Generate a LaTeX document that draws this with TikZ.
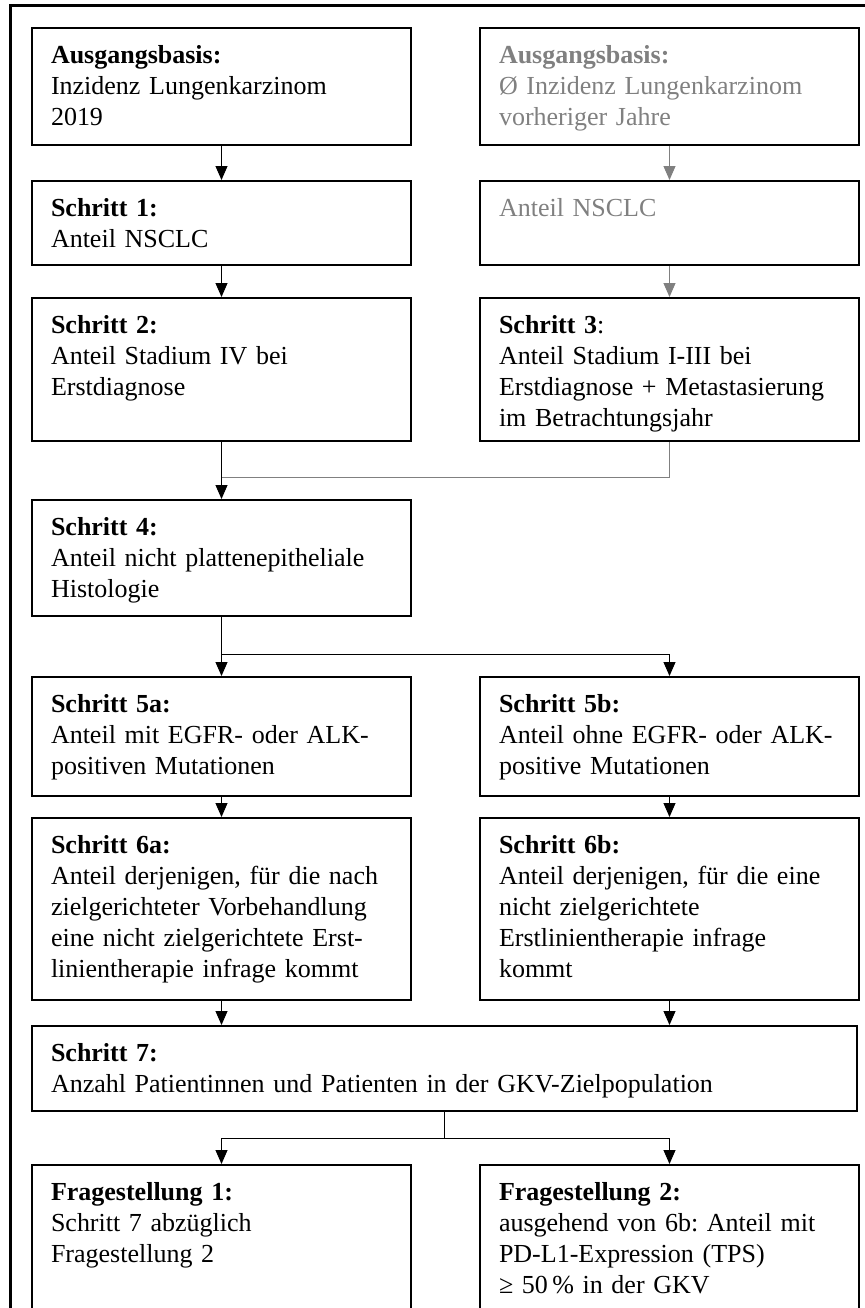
\documentclass[tikz,border=0pt]{standalone}
\usepackage{fontspec}
\setmainfont{Liberation Serif}
\usepackage{xcolor}
\usepackage{tikz}
\usetikzlibrary{arrows.meta,positioning}
\frenchspacing

\begin{document}
\begin{tikzpicture}[
        node distance=17pt,
        box/.style={rectangle, draw, line width=1pt, text width=170.5pt, align=left,
            inner xsep=9.5pt, inner ysep=0pt, text height=17.5pt,
            font=\fontsize{13pt}{15.5pt}\selectfont},
        widebox/.style={box, text width=393.5pt},
        faded/.style={text=gray},
        arrow/.style={line width=0.5pt, -{Triangle[width=6pt,length=7pt]}},
        line/.style={line width=0.5pt}
    ]
        \useasboundingbox (0pt,0pt) rectangle (432.5pt,-654pt);
        \clip (0pt,0pt) rectangle (432.5pt,-654pt);

        % Frame
        \draw[line width=1.5pt] (5pt,-660pt) -- (5pt,-2.5pt) -- (440pt,-2.5pt) -- (440pt,-660pt);

        % Starting points
        \node[box, anchor=north west, text depth=41pt] (base) at (15.5pt,-13.5pt) {
            \textbf{Ausgangsbasis:}\\
            Inzidenz Lungenkarzinom\\
            2019
        };
        \node[box, faded, text depth=41pt, right=33.5pt of base] (rbase) {
            \textbf{Ausgangsbasis:}\\
            Ø Inzidenz Lungenkarzinom\\
            vorheriger Jahre
        };

        % NSCLC
        \node[box, text depth=24.5pt, below=17pt of base] (s1) {
            \textbf{Schritt 1:}\\
            Anteil NSCLC
        };
        \node[box, faded, text depth=24.5pt, below=17pt of rbase] (rs1) {
            Anteil NSCLC
        };

        % Stages
        \node[box, text depth=54pt, below=15.5pt of s1] (s2) {
            \textbf{Schritt 2:}\\
            Anteil Stadium IV bei\\
            Erstdiagnose
        };
        \node[box, text depth=54pt, below=15.5pt of rs1] (s3) {
            \textbf{Schritt 3}:\\
            Anteil Stadium I-III bei\\
            Erstdiagnose + Metastasierung\\
            im Betrachtungsjahr
        };

        % Histology
        \node[box, text depth=40.5pt, below=28.5pt of s2] (s4) {
            \textbf{Schritt 4:}\\
            Anteil nicht plattenepitheliale\\
            Histologie
        };

        % Mutations
        \node[box, text depth=42pt, below=29.5pt of s4] (s5a) {
            \textbf{Schritt 5a:}\\
            Anteil mit EGFR- oder ALK-\\
            positiven Mutationen
        };
        \node[box, text depth=42pt, right=33.5pt of s5a] (s5b) {
            \textbf{Schritt 5b:}\\
            Anteil ohne EGFR- oder ALK-\\
            positive Mutationen
        };

        % First-line therapy
        \node[box, text depth=73.5pt, below=10pt of s5a] (s6a) {
            \textbf{Schritt 6a:}\\
            Anteil derjenigen, für die nach\\
            zielgerichteter Vorbehandlung\\
            eine nicht zielgerichtete Erst-\\
            linientherapie infrage kommt
        };
        \node[box, text depth=73.5pt, below=10pt of s5b] (s6b) {
            \textbf{Schritt 6b:}\\
            Anteil derjenigen, für die eine\\
            nicht zielgerichtete\\
            Erstlinientherapie infrage\\
            kommt
        };

        % Target population
        \node[widebox, text depth=25pt, below=12pt of s6a.south west, anchor=north west] (s7) {
            \textbf{Schritt 7:}\\
            Anzahl Patientinnen und Patienten in der GKV-Zielpopulation
        };

        % Research questions
        \node[box, text depth=54.5pt, below=26pt of s7.south west, anchor=north west] (f1) {
            \textbf{Fragestellung 1:}\\
            Schritt 7 abzüglich\\
            Fragestellung 2
        };
        \node[box, text depth=54.5pt, right=33.5pt of f1] (f2) {
            \textbf{Fragestellung 2:}\\
            ausgehend von 6b: Anteil mit\\
            PD-L1-Expression (TPS)\\
            ≥ 50\,\% in der GKV
        };

        % Junction points
        \coordinate[below=17.75pt of s2.south] (join4);
        \coordinate[below=18.5pt of s4.south] (fork5);
        \coordinate[below=13pt of s7.south] (fork7);

        % Connections
        \draw[arrow] (base) -- (s1);
        \draw[arrow] (s1) -- (s2);
        \draw[arrow, gray] (rbase) -- (rs1);
        \draw[arrow, gray] (rs1) -- (s3);
        \draw[arrow] (s2) -- (s4);
        \draw[line, gray] (s3.south) |- (join4);
        \draw[arrow] (s4) -- (s5a);
        \draw[arrow] (fork5) -| (s5b);
        \draw[arrow] (s5a) -- (s6a);
        \draw[arrow] (s5b) -- (s6b);
        \draw[arrow] (s6a.south) -- (s6a.south |- s7.north);
        \draw[arrow] (s6b.south) -- (s6b.south |- s7.north);
        \draw[line] (s7.south) -- (fork7);
        \draw[arrow] (fork7) -| (f1);
        \draw[arrow] (fork7) -| (f2);
    \end{tikzpicture}
\end{document}
